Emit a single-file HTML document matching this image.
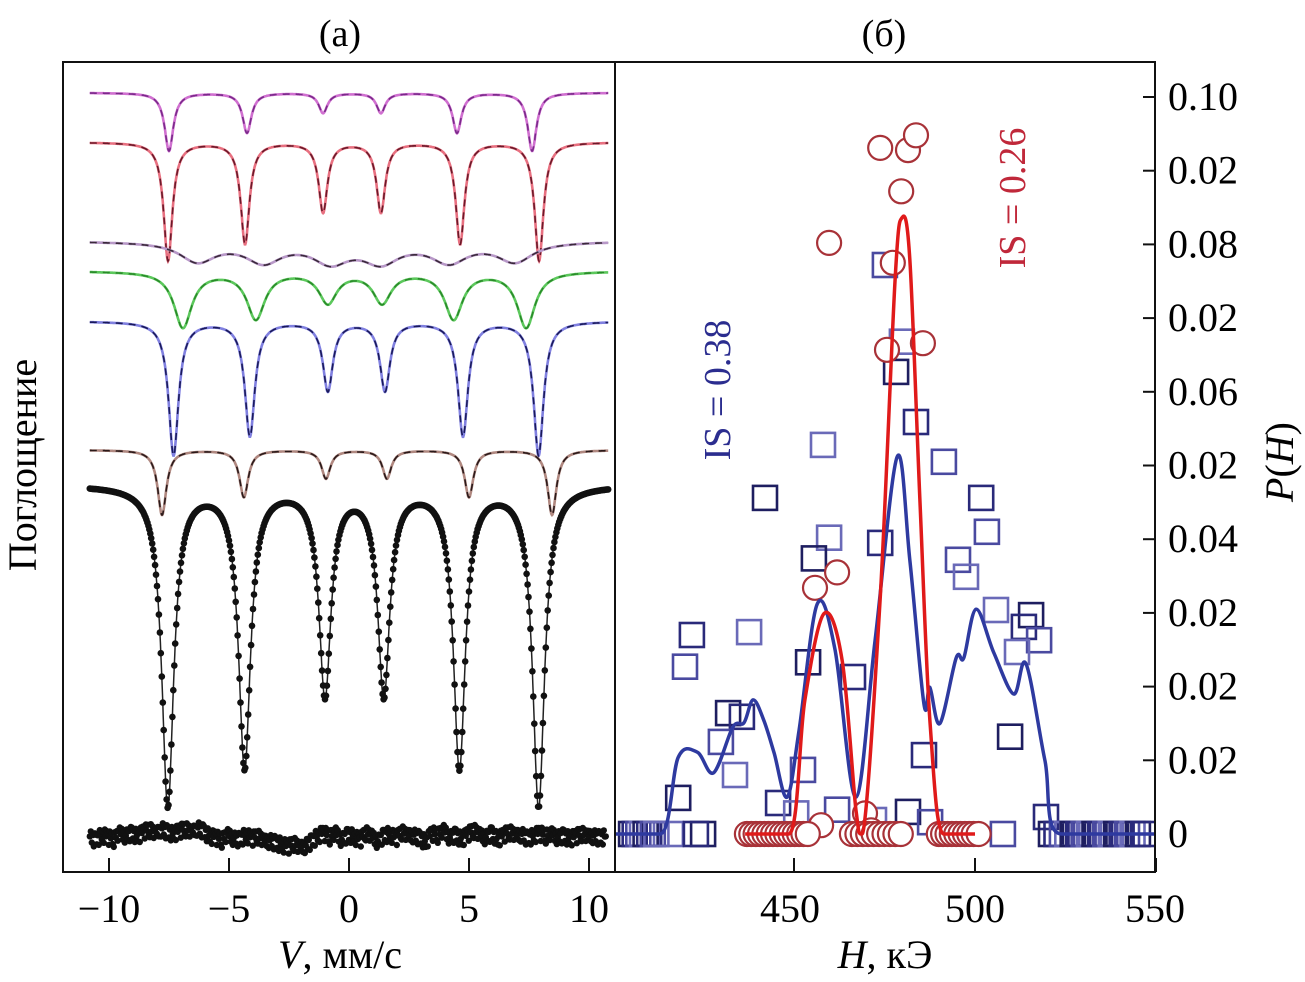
<!DOCTYPE html>
<html><head><meta charset="utf-8"><style>
html,body{margin:0;padding:0;background:#fff;}
svg{display:block;font-family:"Liberation Serif",serif;}
</style></head><body>
<svg id="chart" width="1305" height="982" viewBox="0 0 1305 982" xmlns="http://www.w3.org/2000/svg">
<defs><clipPath id="clipR"><rect x="616" y="63" width="538" height="808"/></clipPath></defs>
<rect x="0" y="0" width="1305" height="982" fill="#fff"/>
<g id="left"></g>
<g id="right"></g>
<g id="frame">
<rect x="63" y="62" width="552" height="810" fill="none" stroke="#111" stroke-width="2"/>
<rect x="615" y="62" width="540" height="810" fill="none" stroke="#111" stroke-width="2"/>
</g>
<text x="340" y="46" font-size="38" text-anchor="middle">(а)</text>
<text x="884" y="46" font-size="38" text-anchor="middle">(б)</text>
<text transform="translate(36,465) rotate(-90)" font-size="40" text-anchor="middle">Поглощение</text>
<text transform="translate(1293,462) rotate(-90)" font-size="40" text-anchor="middle"><tspan font-style="italic">P</tspan>(<tspan font-style="italic">H</tspan>)</text>
<text x="340" y="968" font-size="40" text-anchor="middle"><tspan font-style="italic">V</tspan>, мм/с</text>
<text x="885" y="968" font-size="40" text-anchor="middle"><tspan font-style="italic">H</tspan>, кЭ</text>
<text transform="translate(730,390) rotate(-90)" font-size="38" fill="#2b2d8f" text-anchor="middle">IS = 0.38</text>
<text transform="translate(1025,198) rotate(-90)" font-size="38" fill="#c0283a" text-anchor="middle">IS = 0.26</text>
</svg>
<script>
// ---------- Panel (a) data ----------
const leftTicks = [-10, -5, 0, 5, 10];
const leftTickLabels = ["\u221210", "\u22125", "0", "5", "10"];
const sub1Pos = [-7.5, -4.25, -1.08, 1.33, 4.5, 7.63];
const sub1Depth = [7.16, 4.94, 2.47, 2.47, 4.94, 7.16];
const sub2Pos = [-7.54, -4.33, -1.08, 1.33, 4.63, 7.92];
const sub2Depth = [14.6, 12.5, 8.6, 8.6, 12.5, 14.6];
const sub3Pos = [-6.31, -3.56, -0.76, 1.33, 4.17, 6.92];
const sub3Depth = [2.4, 2.4, 2.4, 2.4, 2.4, 2.4];
const sub4Pos = [-6.92, -3.88, -0.88, 1.38, 4.36, 7.38];
const sub4Depth = [6.9, 5.8, 3.8, 3.8, 5.8, 6.9];
const sub5Pos = [-7.31, -4.13, -0.88, 1.5, 4.75, 7.9];
const sub5Depth = [16.5, 14.1, 8.5, 8.5, 14.1, 16.5];
const sub6Pos = [-7.79, -4.38, -0.96, 1.58, 5.0, 8.46];
const sub6Depth = [8.0, 5.8, 3.5, 3.5, 5.8, 8.0];
const subBase = [96.2, 90.1, 77.9, 74.2, 68.0, 52.1];
const subWidth = [0.22, 0.22, 0.9, 0.45, 0.25, 0.22];
const expPos = [-7.55, -4.35, -1.0, 1.45, 4.6, 7.9];
const expDepth = [39.5, 34.6, 25.6, 25.6, 34.6, 39.5];
const expBase = 47.8;
const expWidth = 0.3;
const residBase = 4.2;
const residual = [0.2,-0.3,0.4,0.1,-0.2,0.5,0.3,0.6,0.2,0.8,1.0,0.4,1.2,0.7,0.5,0.9,1.1,0.6,1.3,0.8,
 0.2,0.1,-0.3,0.3,0.0,-0.2,0.4,-0.1,0.2,-0.5,-0.3,-0.6,-0.8,-1.1,-0.7,-1.3,-0.9,-0.4,0.3,0.6,
 0.1,0.5,-0.2,0.4,0.2,-0.3,0.6,0.1,-0.4,0.3,0.5,-0.1,0.7,0.2,0.4,0.0,-0.5,0.6,0.3,0.8,
 0.1,0.4,-0.2,0.5,0.9,0.3,0.1,0.6,-0.2,0.4,0.7,0.2,0.5,-0.1,0.3,0.6,0.2,0.4,0.1,0.3,
 -0.1,0.2,0.5,0.1,0.3,0.0,0.2];
// ---------- Panel (b) data ----------
const rightTicks = [450, 500, 550];
const rightTickLabels = ["450", "500", "550"];
const yTicksB = [0,0.01,0.02,0.03,0.04,0.05,0.06,0.07,0.08,0.09,0.10];
const yTickLabelsB = ["0","0.02","0.02","0.02","0.04","0.02","0.06","0.02","0.08","0.02","0.10"];
const blueH = [400,413,418,423.3,427.8,433.1,436.2,438.7,441.6,444.5,448.1,451.4,456.4,461.3,467.1,472.4,478.5,482,485.9,487.5,490.3,494.8,496.9,500.3,505.2,510.7,514.1,519.3,524,550];
const blueP = [0,0,1.04,1.11,0.83,1.45,1.51,1.82,1.55,1.10,0.50,1.41,3.12,2.51,0.50,2.63,5.12,3.72,1.76,1.99,1.50,2.39,2.39,3.05,2.46,1.90,2.31,1.0,0,0];
const redH = [436.5,448.5,453,458.3,463.3,467.1,468.8,473.8,477.9,479.8,482,484.8,487.6,491.4,500];
const redP = [0,0,1.82,2.99,2.36,0.33,0,3.2,7.5,8.36,7.8,4.5,1.5,0,0];
const sqH = [421.8,419.9,437.6,431.8,435.6,429.8,433.7,418.0,445.6,452.5,450.6,453.9,466.3,461.9,472.1,481.5,485.9,487.6,505.8,515.5,513.5,517.7,511.6,509.7,519.6,507.7,416.0,424.9,422.9,
 475.1,479.8,478.2,483.7,491.4,458.0,442.0,501.7,503.3,459.7,455.5,473.8,495.3,497.5,
 405,406,407,408,409,410,411,412,521,522.5,524,525.5,527,528.5,530,531.5,533,534.5,536,537.5,539,540.5,542,543.5,545,546.5];
const sqP = [2.70,2.27,2.74,1.64,1.59,1.25,0.80,0.49,0.42,0.87,0.28,2.33,2.13,0.33,0.19,0.30,1.07,0.16,3.04,2.97,2.81,2.63,2.47,1.32,0.23,0,0,0,0,
 7.72,6.68,6.27,5.59,5.05,5.28,4.56,4.56,4.10,4.02,3.74,3.95,3.72,3.49,
 0,0,0,0,0,0,0,0,0,0,0,0,0,0,0,0,0,0,0,0,0,0,0,0,0,0];
const ciH = [473.8,481.5,483.7,479.6,459.7,477.3,475.7,485.6,461.9,455.8,457.5,469.6,471.3,
 437,438.2,439.4,440.6,441.8,443,444.2,445.4,446.6,447.8,449,450.2,451.4,452.6,453.8,
 466,467.5,469,470.5,472,473.5,475,476.5,478,479.5,490,491.2,492.4,493.6,494.8,496,497.2,498.4,499.6,501];
const ciP = [9.31,9.28,9.48,8.72,8.02,7.75,6.57,6.66,3.55,3.34,0.12,0.28,0.05,
 0,0,0,0,0,0,0,0,0,0,0,0,0,0,0,0,0,0,0,0,0,0,0,0,0,0,0,0,0,0,0,0,0,0,0,0];

const NS = "http://www.w3.org/2000/svg";
function mk(tag, attrs, parent){const e=document.createElementNS(NS,tag);for(const k in attrs)e.setAttribute(k,attrs[k]);parent.appendChild(e);return e;}
const xL = v => 349 + v*24;
const yL = a => 872 - a*8.1;
const xR = h => 975 + (h-500)*3.62;
const yR = p => 834 - p*73.7;

const L = document.getElementById('left');
const R = document.getElementById('right');

function lor(v,pos,dep,w){let s=0;for(let i=0;i<pos.length;i++){const d=(v-pos[i])/w;s+=dep[i]/(1+d*d);}return s;}
function specPath(pos,dep,w,base){let d="";for(let v=-10.8;v<=10.81;v+=0.02){const x=xL(v),y=yL(base-lor(v,pos,dep,w));d+=(d?"L":"M")+x.toFixed(1)+" "+y.toFixed(1);}return d;}

const subs=[[sub1Pos,sub1Depth],[sub2Pos,sub2Depth],[sub3Pos,sub3Depth],[sub4Pos,sub4Depth],[sub5Pos,sub5Depth],[sub6Pos,sub6Depth]];
const subColor=["#d070d0","#e87080","#b898c8","#5cc85c","#8080e0","#b08880"];
const subDash=["#7a2a8a","#6a1a2a","#3a2a3a","#2a8a2a","#1a1a5a","#2a1a1a"];
subs.forEach((s,i)=>{
  const d=specPath(s[0],s[1],subWidth[i],subBase[i]);
  const p1=mk('path',{d:d,fill:'none',stroke:subColor[i],'stroke-width':2.6},L);
  
  
  const p2=mk('path',{d:d,fill:'none',stroke:subDash[i],'stroke-width':1.6,'stroke-dasharray':'7 6'},L);
  
  
});
const ep=mk('path',{d:specPath(expPos,expDepth,expWidth,expBase),fill:'none',stroke:'#222','stroke-width':1.5},L);


const eg=mk('g',{fill:'#111'},L);


for(let v=-10.8;v<=10.81;v+=0.04){mk('circle',{cx:xL(v).toFixed(1),cy:yL(expBase-lor(v,expPos,expDepth,expWidth)).toFixed(1),r:3.3},eg);}
const rg=mk('g',{fill:'#111'},L);


const jit=[0,0.7,-0.6,0.4,-0.9,0.8];
residual.forEach((r,i)=>{
  if(i>=residual.length-1){mk('circle',{cx:xL(-10.8+i*0.25).toFixed(1),cy:yL(residBase+r).toFixed(1),r:3.2},rg);return;}
  const r2=residual[i+1];
  for(let k=0;k<6;k++){const f=k/6;const v=-10.8+(i+f)*0.25;const val=r+(r2-r)*f+jit[(k+i)%6];
    mk('circle',{cx:xL(v).toFixed(1),cy:yL(residBase+val).toFixed(1),r:3.2},rg);}
});
leftTicks.forEach((t,i)=>{
  const ln=mk('line',{x1:xL(t),x2:xL(t),y1:872,y2:858,stroke:'#111','stroke-width':2},L);
  
  
  const tx=mk('text',{x:xL(t),y:922,'font-size':40,'text-anchor':'middle'},L);
  tx.textContent=leftTickLabels[i];
  
  
});

// ---------- panel b ----------
yTicksB.forEach((t,i)=>{
  const ln=mk('line',{x1:1143,x2:1155,y1:yR(t*100),y2:yR(t*100),stroke:'#111','stroke-width':2},R);
  
  
  const tx=mk('text',{x:1168,y:yR(t*100)+13,'font-size':40},R);
  tx.textContent=yTickLabelsB[i];
  
  
});
const rLab=[790,975,1155];
rightTicks.forEach((t,i)=>{
  const ln=mk('line',{x1:xR(t),x2:xR(t),y1:872,y2:858,stroke:'#111','stroke-width':2},R);
  
  
  const tx=mk('text',{x:rLab[i],y:922,'font-size':40,'text-anchor':'middle'},R);
  tx.textContent=rightTickLabels[i];
  
  
});
const plotR=mk('g',{'clip-path':'url(#clipR)'},R);


const sqCols=["#2a2a7a","#4a4aa0","#6a6ab8","#1e1e60"];
const sg=mk('g',{fill:'none','stroke-width':2.6},plotR);


sqH.forEach((h,i)=>{mk('rect',{x:(xR(h)-12).toFixed(1),y:(yR(sqP[i])-12).toFixed(1),width:24,height:24,stroke:sqCols[i%4]},sg);});
const cg=mk('g',{fill:'#fff',stroke:'#a83238','stroke-width':2.2},plotR);


ciH.forEach((h,i)=>{mk('circle',{cx:xR(h).toFixed(1),cy:yR(ciP[i]).toFixed(1),r:12},cg);});
function smooth(H,P){
  const base=yR(0);
  const pts=H.map((h,i)=>[xR(h),yR(P[i])]);
  let d='M'+pts[0][0].toFixed(1)+' '+pts[0][1].toFixed(1);
  for(let i=0;i<pts.length-1;i++){
    const p0=pts[Math.max(0,i-1)],p1=pts[i],p2=pts[i+1],p3=pts[Math.min(pts.length-1,i+2)];
    const c1=[p1[0]+(p2[0]-p0[0])/6,Math.min(base,p1[1]+(p2[1]-p0[1])/6)];
    const c2=[p2[0]-(p3[0]-p1[0])/6,Math.min(base,p2[1]-(p3[1]-p1[1])/6)];
    if(p1[1]>=base-0.5||p2[1]>=base-0.5){
      if(p1[1]>=base-0.5&&p2[1]>=base-0.5){d+='L'+p2[0].toFixed(1)+' '+p2[1].toFixed(1);continue;}
      if(p1[1]>=base-0.5)c1[1]=base; else c2[1]=base;
    }
    d+='C'+c1[0].toFixed(1)+' '+c1[1].toFixed(1)+' '+c2[0].toFixed(1)+' '+c2[1].toFixed(1)+' '+p2[0].toFixed(1)+' '+p2[1].toFixed(1);
  }
  return d;
}
const bl=mk('path',{d:smooth(blueH,blueP),fill:'none',stroke:'#2e3aa0','stroke-width':3.5,'stroke-linejoin':'round'},plotR);


const rl=mk('path',{d:smooth(redH,redP),fill:'none',stroke:'#e01a1a','stroke-width':3.5,'stroke-linejoin':'round'},plotR);


</script>
</body></html>
